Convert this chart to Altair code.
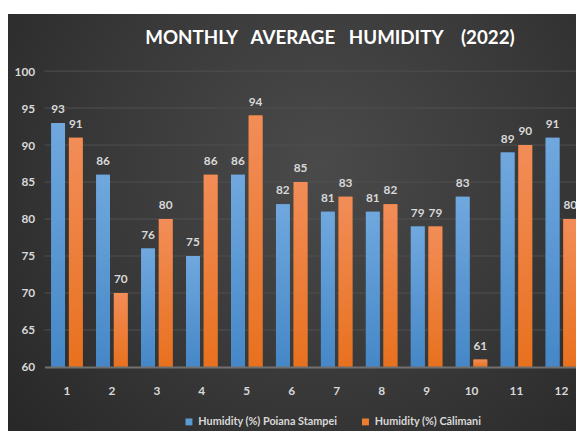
import altair as alt
import pandas as pd

months = [str(m) for m in range(1, 13)]
poiana = [93, 86, 76, 75, 86, 82, 81, 81, 79, 83, 89, 91]
calimani = [91, 70, 80, 86, 94, 85, 83, 82, 79, 61, 90, 80]
series_names = ["Humidity (%) Poiana Stampei", "Humidity (%) Călimani"]
y_ticks = [60, 65, 70, 75, 80, 85, 90, 95, 100]
NB = "\u00a0"
title_text = "MONTHLY" + NB * 3 + "AVERAGE" + NB * 3 + "HUMIDITY" + NB * 4 + "(2022)"

rows = []
for m, a, b in zip(months, poiana, calimani):
    rows.append({"month": m, "series": series_names[0], "value": a})
    rows.append({"month": m, "series": series_names[1], "value": b})
df = pd.DataFrame(rows)
grid_df = pd.DataFrame({"value": y_ticks[1:]})

W, H = 539, 300
FONT = "Lato"
TXT = "#d9d9d9"
BLUE = "#5b9bd5"
ORANGE = "#ed7d31"

x = alt.X(
    "month:N", sort=months,
    scale=alt.Scale(range=[0, 547], paddingInner=0.3, paddingOuter=0.15),
    axis=alt.Axis(title=None, labelAngle=0, labelFont=FONT, labelFontWeight="bold",
                  labelFontSize=12, labelColor=TXT, labelPadding=19, ticks=False,
                  domainColor="#707070", domainWidth=2, grid=False, zindex=1),
)
xo = alt.XOffset("series:N", sort=series_names,
                 scale=alt.Scale(domain=series_names, paddingInner=0.22, paddingOuter=0))
y = alt.Y(
    "value:Q",
    scale=alt.Scale(domain=[60, 100], nice=False, zero=False),
    axis=alt.Axis(title=None, values=y_ticks, grid=False,
                  domain=False, ticks=False, labelPadding=10, labelFont=FONT,
                  labelFontWeight="bold", labelFontSize=12, labelColor=TXT, zindex=1),
)

bg = alt.Chart(pd.DataFrame({"a": [0]})).mark_rect(
    fill=alt.Gradient(gradient="radial",
                      stops=[alt.GradientStop(color="#4a4a4a", offset=0),
                             alt.GradientStop(color="#383838", offset=0.5),
                             alt.GradientStop(color="#232323", offset=1)],
                      x1=0.55, y1=0.4, r1=0, x2=0.55, y2=0.4, r2=0.8)
).encode(x=alt.value(-37), x2=alt.value(W), y=alt.value(-58), y2=alt.value(H + 65))

grid = alt.Chart(grid_df).mark_rule(color="#505050", strokeWidth=1).encode(
    y=y, x=alt.value(0), x2=alt.value(W)
)

base = alt.Chart(df)

legend_bars = base.mark_bar().encode(
    x=x, xOffset=xo, y=y, y2=alt.datum(60),
    color=alt.Color("series:N", sort=series_names,
                    scale=alt.Scale(domain=series_names, range=[BLUE, ORANGE]),
                    legend=alt.Legend(title=None, orient="none", legendX=141, legendY=350,
                                      direction="horizontal", symbolType="square",
                                      symbolSize=49, symbolStrokeWidth=0,
                                      labelFont=FONT, labelFontSize=11, labelFontWeight="bold",
                                      labelColor=TXT, columnPadding=22, labelOffset=4)),
)

blue_bars = base.transform_filter(alt.datum.series == series_names[0]).mark_bar(
    fill=alt.Gradient(gradient="linear", x1=0, y1=0, x2=0, y2=1,
                      stops=[alt.GradientStop(color="#70a8de", offset=0),
                             alt.GradientStop(color="#4587c7", offset=1)])
).encode(x=x, xOffset=xo, y=y, y2=alt.datum(60))

orange_bars = base.transform_filter(alt.datum.series == series_names[1]).mark_bar(
    fill=alt.Gradient(gradient="linear", x1=0, y1=0, x2=0, y2=1,
                      stops=[alt.GradientStop(color="#f28d58", offset=0),
                             alt.GradientStop(color="#e8711e", offset=1)])
).encode(x=x, xOffset=xo, y=y, y2=alt.datum(60))

labels = base.mark_text(font=FONT, fontWeight="bold", fontSize=12, color=TXT,
                        baseline="alphabetic", dy=-10).encode(
    x=x, xOffset=xo, y=y, text=alt.Text("value:Q")
)

chart = alt.layer(bg, grid, legend_bars, blue_bars, orange_bars, labels).properties(
    width=W, height=H,
    padding={"left": 37, "top": 61, "right": 0, "bottom": 65},
    autosize=alt.AutoSizeParams(type="none"),
    background="white",
    title=alt.TitleParams(title_text, font=FONT, fontSize=19, fontWeight="bold",
                          color="white", anchor="middle", frame="group", dx=20,
                          baseline="alphabetic", offset=0, dy=50),
).configure_view(stroke=None)

chart.save("out.html", embed_options={"renderer": "svg", "actions": False})
